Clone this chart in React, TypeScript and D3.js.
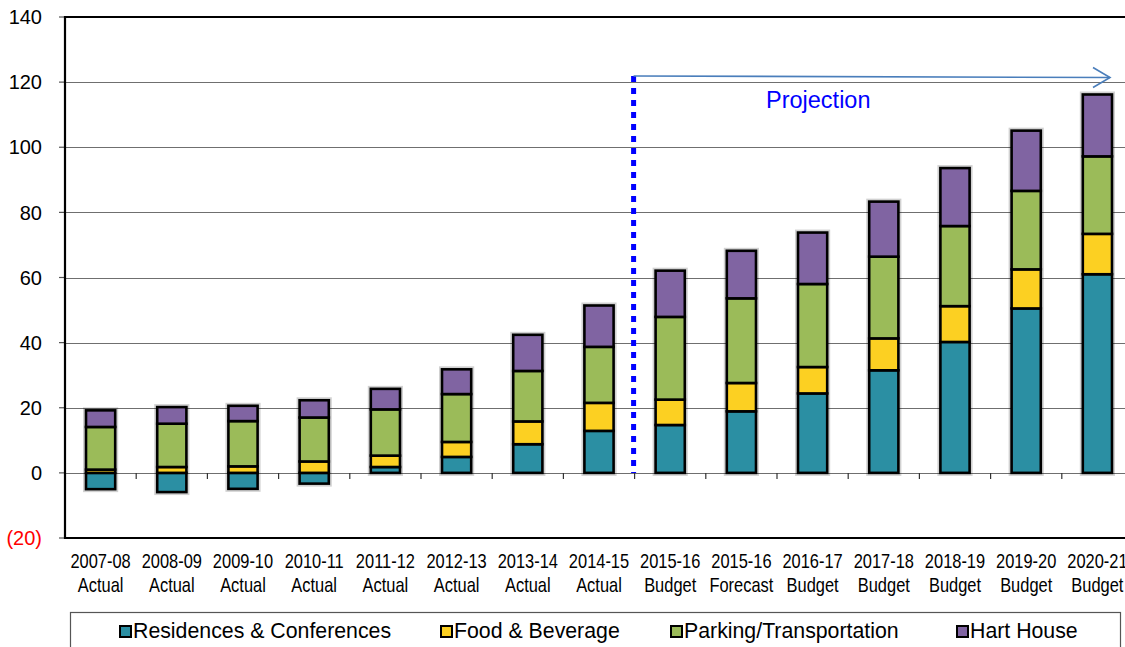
import React from 'react';
import * as d3 from 'd3';

const years = ['2007-08', '2008-09', '2009-10', '2010-11', '2011-12', '2012-13', '2013-14', '2014-15',
  '2015-16', '2015-16', '2016-17', '2017-18', '2018-19', '2019-20', '2020-21'];
const kinds = ['Actual', 'Actual', 'Actual', 'Actual', 'Actual', 'Actual', 'Actual', 'Actual',
  'Budget', 'Forecast', 'Budget', 'Budget', 'Budget', 'Budget', 'Budget'];

const residences = [-5.0, -5.9, -4.9, -3.3, 1.8, 4.9, 8.8, 12.9, 14.7, 18.9, 24.4, 31.5, 40.2, 50.5, 61.0];
const food = [1.0, 1.8, 2.0, 3.5, 3.5, 4.6, 7.0, 8.6, 7.8, 8.7, 8.1, 9.8, 11.0, 12.0, 12.4];
const parking = [13.1, 13.3, 13.9, 13.5, 14.2, 14.7, 15.5, 17.2, 25.4, 26.0, 25.5, 25.1, 24.6, 24.1, 23.8];
const hart = [5.1, 5.1, 4.7, 5.3, 6.3, 7.6, 11.1, 12.7, 14.2, 14.6, 15.8, 16.9, 17.8, 18.5, 19.0];

const seriesNames = ['Residences & Conferences', 'Food & Beverage', 'Parking/Transportation', 'Hart House'];
const seriesColors = ['#2b8fa3', '#fcd022', '#9bbb59', '#8064a2'];
const yTicks = [-20, 0, 20, 40, 60, 80, 100, 120, 140];
const projectionLabel = 'Projection';

const W = 1125;
const H = 647;
const left = 65;
const right = 1133;
const top = 17;
const bottom = 538;
const firstProjected = 8;

export default function App() {
  const keys = ['res', 'food', 'park', 'hart'];
  const rows = years.map((y, i) => ({
    idx: i, res: residences[i], food: food[i], park: parking[i], hart: hart[i],
  }));
  const stacked = d3.stack<any>().keys(keys).offset(d3.stackOffsetDiverging)(rows);

  const x = d3.scaleBand<number>()
    .domain(rows.map(r => r.idx))
    .range([left, right])
    .paddingInner(0.59)
    .paddingOuter(0.295);
  const y = d3.scaleLinear().domain([-20, 140]).range([bottom, top]);
  const step = x.step();
  const boundary = (i: number) => left + step * i;
  const cx = (i: number) => (x(i) as number) + x.bandwidth() / 2;

  const font = 'Arial, "Liberation Sans", sans-serif';
  const dividerX = boundary(firstProjected) - 1;

  return (
    <svg width={W} height={H} style={{ position: 'absolute', left: 0, top: 0, background: '#fff' }}>
      {/* grid */}
      {yTicks.filter(t => t > -20 && t < 140).map(t => (
        <line key={t} x1={left} x2={right} y1={Math.round(y(t)) + 0.5} y2={Math.round(y(t)) + 0.5}
          stroke="#6f6f6f" strokeWidth={1.2} />
      ))}
      {/* category ticks on zero line */}
      {d3.range(1, years.length).map(i => (
        <line key={i} x1={boundary(i)} x2={boundary(i)} y1={y(0)} y2={y(0) + 6} stroke="#333" strokeWidth={1.2} />
      ))}
      {/* y tick marks and labels */}
      {yTicks.map(t => (
        <g key={t}>
          <line x1={left - 6} x2={left} y1={y(t)} y2={y(t)} stroke="#555" strokeWidth={1.2} />
          <text x={42} y={y(t)} dy="0.36em" textAnchor="end" fontFamily={font} fontSize={20}
            fill={t < 0 ? '#ff0000' : '#000'}>
            {t < 0 ? `(${Math.abs(t)})` : t}
          </text>
        </g>
      ))}
      {/* frame */}
      <line x1={left} x2={right} y1={top} y2={top} stroke="#000" strokeWidth={2.2} />
      <line x1={left} x2={right} y1={bottom} y2={bottom} stroke="#000" strokeWidth={2.2} />
      <line x1={left} x2={left} y1={top - 1} y2={bottom + 1} stroke="#000" strokeWidth={2.2} />

      {/* bar halos */}
      {rows.map(r => {
        const lo = Math.min(0, r.res);
        const hi = (r.res > 0 ? r.res : 0) + r.food + r.park + r.hart;
        return (
          <rect key={r.idx} x={x(r.idx)} width={x.bandwidth()} y={y(hi)} height={y(lo) - y(hi)}
            fill="none" stroke="#000" strokeOpacity={0.18} strokeWidth={6} />
        );
      })}
      {/* bars */}
      {stacked.map((s, si) => (
        <g key={s.key} fill={seriesColors[si]}>
          {s.map((d, i) => {
            const y0 = y(Math.max(d[0], d[1]));
            const y1 = y(Math.min(d[0], d[1]));
            if (y1 - y0 < 0.01) return null;
            return (
              <rect key={i} x={x(i)} width={x.bandwidth()} y={y0} height={y1 - y0}
                stroke="#000" strokeWidth={2.6} />
            );
          })}
        </g>
      ))}

      {/* projection divider and arrow */}
      <line x1={dividerX} x2={dividerX} y1={76} y2={y(0)} stroke="#0000ff" strokeWidth={5}
        strokeDasharray="6 6" />
      <g stroke="#4a7ebb" strokeWidth={1.6} fill="none">
        <line x1={dividerX} y1={76} x2={1110} y2={77.5} />
        <polyline points="1093,67.5 1110,77.5 1093,87.5" />
      </g>
      <text x={766} y={108} fontFamily={font} fontSize={23.5} fill="#0000ff">{projectionLabel}</text>

      {/* x labels, condensed like Arial Narrow */}
      {rows.map(r => (
        <g key={r.idx} transform={`translate(${cx(r.idx)},0) scale(0.83,1)`}>
          <text textAnchor="middle" fontFamily={font} fontSize={19.8} fill="#000">
            <tspan x={0} y={568}>{years[r.idx]}</tspan>
            <tspan x={0} y={592}>{kinds[r.idx]}</tspan>
          </text>
        </g>
      ))}

      {/* legend */}
      <rect x={70.5} y={612.5} width={1050} height={60} fill="#fff" stroke="#555" strokeWidth={1.2} />
      {seriesNames.map((n, i) => {
        const lx = [120, 441, 671, 957][i];
        return (
          <g key={n}>
            <rect x={lx} y={626} width={11} height={11} fill={seriesColors[i]} stroke="#000" strokeWidth={2} />
            <text x={lx + 13} y={638} fontFamily={font} fontSize={21.3} fill="#000">{n}</text>
          </g>
        );
      })}
    </svg>
  );
}
